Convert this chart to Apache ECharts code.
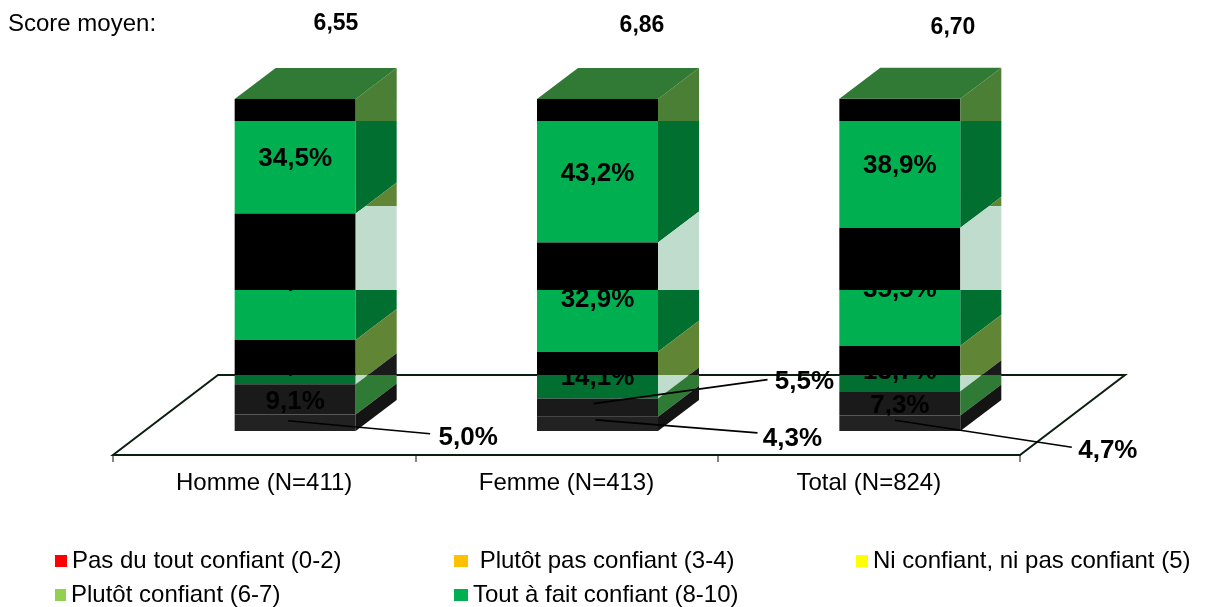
<!DOCTYPE html>
<html><head><meta charset="utf-8">
<style>html,body{margin:0;padding:0;background:#fff}#c{width:1206px;height:607px}</style>
<script src="https://cdn.jsdelivr.net/npm/echarts@6/dist/echarts.min.js"></script>
</head><body><div id="c"></div>
<script>
const categories = ['Homme (N=411)', 'Femme (N=413)', 'Total (N=824)'];
const scoreLabel = 'Score moyen:';
const scores = ['6,55', '6,86', '6,70'];
const pasDuTout = [5.0, 4.3, 4.7];
const plutotPas = [9.1, 5.5, 7.3];
const niNi = [13.3, 14.1, 13.7];
const plutotConfiant = [38.1, 32.9, 35.5];
const toutAFait = [34.5, 43.2, 38.9];
const seriesNames = ['Pas du tout confiant (0-2)', ' Plutôt pas confiant (3-4)', 'Ni confiant, ni pas confiant (5)', 'Plutôt confiant (6-7)', 'Tout à fait confiant (8-10)'];
const seriesValues = [pasDuTout, plutotPas, niNi, plutotConfiant, toutAFait];
const legendColors = ['#FF0000', '#FFC000', '#FFFF00', '#92D050', '#00B050'];

// horizontal colour bands, in value-axis units
const bandBreaks = [16.9, 42.5, 67.8, 93.4];
const G = '#00B050', K = '#000000', DG = '#006F30', OL = '#5F8535', OT = '#4A7F35', PA = '#C0DCCC', MG = '#2F7A35';
// per series (bottom to top), per band (bottom to top)
const frontColors = [
  ['#222222', '#222222', '#222222', '#222222', '#222222'],
  ['#1A1A1A', '#1A1A1A', '#1A1A1A', '#1A1A1A', '#1A1A1A'],
  [DG, K, K, K, K],
  [G, G, K, K, K],
  [G, G, G, G, K]
];
const sideColors = [
  ['#141414', '#141414', '#141414', '#141414', '#141414'],
  [MG, '#1A1A1A', '#1A1A1A', '#1A1A1A', '#1A1A1A'],
  [PA, OL, OL, OL, OL],
  [DG, DG, PA, OL, OL],
  [DG, DG, DG, DG, OT]
];
const topColor = '#317A35';
const barWidth = 121, barShift = 31, depthX = 41, depthY = -31;
const axisDrop = 24, floorBackRise = 80, floorBackShift = 105;
const labelNudge = 3;
// labels pulled outside the bar: offsets from the segment centre
const callouts = {
  '0-0': {text: [173, 12], from: [-7, -2], to: [135, 11]},
  '0-1': {text: [195, 12], from: [-2, -4], to: [160, 9]},
  '1-1': {text: [207, -29], from: [-4, -4], to: [170, -28]},
  '0-2': {text: [208, 25], from: [-5, -3], to: [172, 24]}
};
const FONT = '"Liberation Sans", Arial, sans-serif';

function clipY(pts, yLim, keepBelow) {
  const out = [];
  const inside = p => keepBelow ? p[1] >= yLim : p[1] <= yLim;
  for (let i = 0; i < pts.length; i++) {
    const a = pts[i], b = pts[(i + 1) % pts.length];
    if (inside(a)) out.push(a);
    if (inside(a) !== inside(b)) {
      const t = (yLim - a[1]) / (b[1] - a[1]);
      out.push([a[0] + t * (b[0] - a[0]), yLim]);
    }
  }
  return out;
}

function makeRender(s) {
  return function (params, api) {
    const c = api.value(0), lo = api.value(1), hi = api.value(2);
    const pLo = api.coord([c, lo]), pHi = api.coord([c, hi]);
    const x0 = pLo[0] + barShift - barWidth / 2, x1 = x0 + barWidth;
    const yLo = pLo[1], yHi = pHi[1];
    const children = [];
    const edges = [-Infinity, ...bandBreaks, Infinity];
    for (let b = 0; b < edges.length - 1; b++) {
      const yBottom = edges[b] === -Infinity ? 1e5 : api.coord([c, edges[b]])[1];
      const yTop = edges[b + 1] === Infinity ? -1e5 : api.coord([c, edges[b + 1]])[1];
      const fTop = Math.max(yHi, yTop), fBot = Math.min(yLo, yBottom);
      if (fBot > fTop) {
        children.push({type: 'rect', shape: {x: x0, y: fTop, width: barWidth, height: fBot - fTop},
          style: {fill: frontColors[s][b]}});
      }
      let side = [[x1, yHi], [x1 + depthX, yHi + depthY], [x1 + depthX, yLo + depthY], [x1, yLo]];
      side = clipY(side, yTop, true);
      if (side.length) side = clipY(side, yBottom, false);
      if (side.length > 2) {
        children.push({type: 'polygon', shape: {points: side}, style: {fill: sideColors[s][b]}});
      }
    }
    if (s === seriesValues.length - 1) {
      children.push({type: 'polygon', shape: {points: [[x0, yHi], [x0 + depthX, yHi + depthY], [x1 + depthX, yHi + depthY], [x1, yHi]]},
        style: {fill: topColor}});
    }
    const cx = (x0 + x1) / 2, cy = (yLo + yHi) / 2;
    const co = callouts[s + '-' + c];
    const txt = (hi - lo).toFixed(1).replace('.', ',') + '%';
    if (co) {
      children.push({type: 'line', z2: 20, shape: {x1: cx + co.from[0], y1: cy + co.from[1], x2: cx + co.to[0], y2: cy + co.to[1]},
        style: {stroke: '#000', lineWidth: 1.6}});
    }
    children.push({type: 'text', z2: 30, style: {text: txt, x: cx + (co ? co.text[0] : 0), y: cy + (co ? co.text[1] : 0) + labelNudge,
      align: 'center', verticalAlign: 'middle', fontFamily: FONT, fontSize: 26, fontWeight: 'bold', fill: '#000'}});
    return {type: 'group', children};
  };
}

const customSeries = seriesNames.map((name, s) => ({
  type: 'custom',
  name,
  z: 6 + seriesNames.length - s,
  itemStyle: {color: legendColors[s]},
  renderItem: makeRender(s),
  encode: {x: 0, y: [1, 2]},
  data: categories.map((_, c) => {
    let base = 0;
    for (let k = 0; k < s; k++) base += seriesValues[k][c];
    return [c, base, base + seriesValues[s][c]];
  })
}));

const floorSeries = {
  type: 'custom',
  z: 3,
  silent: true,
  renderItem(params) {
    const g = params.coordSys;
    const yF = g.y + g.height + axisDrop, yB = yF - floorBackRise;
    const l = g.x, r = g.x + g.width;
    return {type: 'polygon', shape: {points: [[l, yF], [l + floorBackShift, yB], [r + floorBackShift, yB], [r, yF]]},
      style: {fill: 'none', stroke: '#0A1F10', lineWidth: 2}};
  },
  data: [[0, 0, 0]],
  encode: {x: 0, y: 1}
};

const legendPos = [[55, 549, 12], [454, 549, 14], [856, 549, 12], [55, 583, 11], [454, 583, 14]];
const scorePos = [[336, 24], [642, 26], [953, 28]];

const chart = echarts.init(document.getElementById('c'), null, {renderer: 'canvas'});
chart.setOption({
  animation: false,
  backgroundColor: '#fff',
  grid: {left: 113, width: 907, top: 99, height: 332},
  xAxis: {
    type: 'category', data: categories, offset: axisDrop,
    axisLine: {show: true, onZero: false, lineStyle: {color: '#868686', width: 2}},
    axisTick: {show: true, length: 7, lineStyle: {color: '#868686', width: 2}},
    axisLabel: {color: '#000', fontSize: 24, fontFamily: FONT, margin: 16},
    splitLine: {show: false}
  },
  yAxis: {type: 'value', min: 0, max: 100, show: false, splitLine: {show: false}},
  legend: seriesNames.map((n, i) => ({
    data: [n], left: legendPos[i][0], top: legendPos[i][1], icon: 'rect', itemWidth: legendPos[i][2], itemHeight: 12,
    padding: 0, selectedMode: false, textStyle: {fontSize: 24, fontFamily: FONT, color: '#000'}
  })),
  graphic: [
    {type: 'text', left: 8, top: 12, style: {text: scoreLabel, fontFamily: FONT, fontSize: 24, fill: '#000'}},
    ...scores.map((t, i) => ({type: 'text', x: scorePos[i][0], y: scorePos[i][1],
      style: {text: t, align: 'center', verticalAlign: 'middle', fontFamily: FONT, fontSize: 23, fontWeight: 'bold', fill: '#000'}}))
  ],
  series: [floorSeries, ...customSeries]
});
</script></body></html>
